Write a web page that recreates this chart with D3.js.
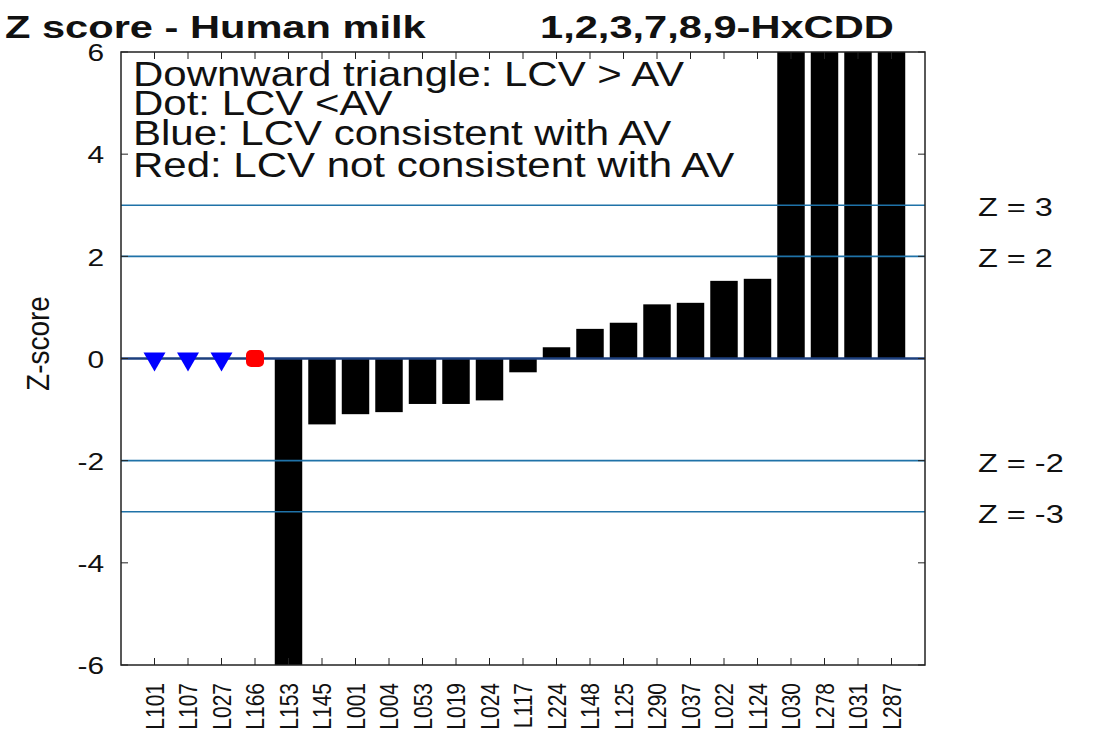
<!DOCTYPE html>
<html><head><meta charset="utf-8">
<script src="https://cdn.jsdelivr.net/npm/d3@7"></script>
<style>body{margin:0;background:#fff}svg{display:block}text{font-family:"Liberation Sans",Arial,sans-serif;fill:#111}</style>
</head><body>
<script>
// ---- data ----
const categories = ["L101","L107","L027","L166","L153","L145","L001","L004","L053","L019","L024","L117","L224","L148","L125","L290","L037","L022","L124","L030","L278","L031","L287"];
const markerLabs = ["L101","L107","L027","L166"];
const markerVals = [0,0,0,0];
const markerShape = ["triangle","triangle","triangle","dot"];
const markerConsistent = [true,true,true,false];
const barLabs = ["L153","L145","L001","L004","L053","L019","L024","L117","L224","L148","L125","L290","L037","L022","L124","L030","L278","L031","L287"];
const barVals = [-8.5,-1.29,-1.09,-1.05,-0.89,-0.89,-0.82,-0.27,0.22,0.58,0.70,1.06,1.09,1.52,1.56,7.5,9.0,11.0,14.0];
const yTicks = [-6,-4,-2,0,2,4,6];
const zLines = [3,2,-2,-3];
const zLabels = ["Z = 3","Z = 2","Z = -2","Z = -3"];
const legendLines = ["Downward triangle: LCV > AV","Dot: LCV <AV","Blue: LCV consistent with AV","Red: LCV not consistent with AV"];
const titleLeft = "Z score - Human milk";
const titleRight = "1,2,3,7,8,9-HxCDD";
const yLabel = "Z-score";

// ---- layout ----
const W = 1093, H = 735, SX = 1.3;
const L = 121, R = 925, T = 52, B = 665;
const svg = d3.select("body").append("svg").attr("width", W).attr("height", H);
const x = d3.scaleLinear().domain([0, categories.length + 1]).range([L, R]);
const pos = d3.scaleOrdinal().domain(categories).range(d3.range(1, categories.length + 1));
const y = d3.scaleLinear().domain([-6, 6]).range([B, T]);
const bw = x(0.82) - x(0);

svg.append("clipPath").attr("id","clip").append("rect").attr("x",L).attr("y",T).attr("width",R-L).attr("height",B-T);
const plot = svg.append("g").attr("clip-path","url(#clip)");

// bars
plot.selectAll("rect.bar").data(barLabs).join("rect").attr("class","bar")
  .attr("x", (d) => x(pos(d)) - bw/2)
  .attr("width", bw)
  .attr("y", (d,i) => y(Math.max(0, barVals[i])))
  .attr("height", (d,i) => Math.abs(y(barVals[i]) - y(0)))
  .attr("fill", "#000");

// reference lines
plot.selectAll("line.z").data(zLines).join("line").attr("class","z")
  .attr("x1", L).attr("x2", R).attr("y1", (d) => y(d)).attr("y2", (d) => y(d))
  .attr("stroke", "#1f72a8").attr("stroke-width", 1.6);
plot.append("line").attr("x1", L).attr("x2", R).attr("y1", y(0)).attr("y2", y(0))
  .attr("stroke", "#1c3f7e").attr("stroke-width", 2.6);

// markers
markerLabs.forEach((d, i) => {
  const cx = x(pos(d)), cy = y(markerVals[i]);
  const col = markerConsistent[i] ? "#0000ff" : "#ff0000";
  if (markerShape[i] === "triangle") {
    plot.append("path").attr("d", `M${cx-11},${cy-6}L${cx+11},${cy-6}L${cx},${cy+13}Z`).attr("fill", col);
  } else {
    plot.append("rect").attr("x", cx-9).attr("y", cy-8.5).attr("width", 18).attr("height", 17).attr("rx", 5).attr("fill", col);
  }
});

// frame
svg.append("rect").attr("x",L).attr("y",T).attr("width",R-L).attr("height",B-T).attr("fill","none").attr("stroke","#222").attr("stroke-width",1.5);

// ticks
const tk = 7;
categories.forEach((c) => {
  const xx = x(pos(c));
  svg.append("line").attr("x1",xx).attr("x2",xx).attr("y1",B).attr("y2",B-tk).attr("stroke","#222").attr("stroke-width",1);
  svg.append("line").attr("x1",xx).attr("x2",xx).attr("y1",T).attr("y2",T+tk).attr("stroke","#222").attr("stroke-width",1);
  svg.append("g").attr("transform",`translate(${xx},683) scale(1.2,1) rotate(-90)`)
    .append("text").attr("text-anchor","end").attr("dy","0.36em").attr("font-size",21).text(c);
});
yTicks.forEach((t) => {
  svg.append("line").attr("x1",L).attr("x2",L+tk).attr("y1",y(t)).attr("y2",y(t)).attr("stroke","#222");
  svg.append("line").attr("x1",R).attr("x2",R-tk).attr("y1",y(t)).attr("y2",y(t)).attr("stroke","#222");
  svg.append("g").attr("transform",`translate(104,${y(t)+1}) scale(${SX},1)`)
    .append("text").attr("text-anchor","end").attr("dy","0.36em").attr("font-size",23).attr("fill","#222").text(t);
});

// Z labels
zLines.forEach((z, i) => {
  svg.append("g").attr("transform",`translate(978,${y(z)+2}) scale(${SX},1)`)
    .append("text").attr("dy","0.36em").attr("font-size",25).attr("fill","#222").text(zLabels[i]);
});

// legend text
const legBase = [86,115,145,177];
legendLines.forEach((s, i) => {
  svg.append("g").attr("transform",`translate(133,${legBase[i]}) scale(1.2,1)`)
    .append("text").attr("font-size",35).text(s);
});

// titles
svg.append("g").attr("transform",`translate(5,38) scale(${SX},1)`)
  .append("text").attr("font-size",32).attr("font-weight","bold").text(titleLeft);
svg.append("g").attr("transform",`translate(540,38) scale(${SX},1)`)
  .append("text").attr("font-size",32).attr("font-weight","bold").text(titleRight);

// y label
svg.append("g").attr("transform",`translate(38,${y(0)-15}) scale(1.1,1) rotate(-90)`)
  .append("text").attr("text-anchor","middle").attr("dy","0.36em").attr("font-size",28).attr("fill","#222").text(yLabel);
</script>
</body></html>
